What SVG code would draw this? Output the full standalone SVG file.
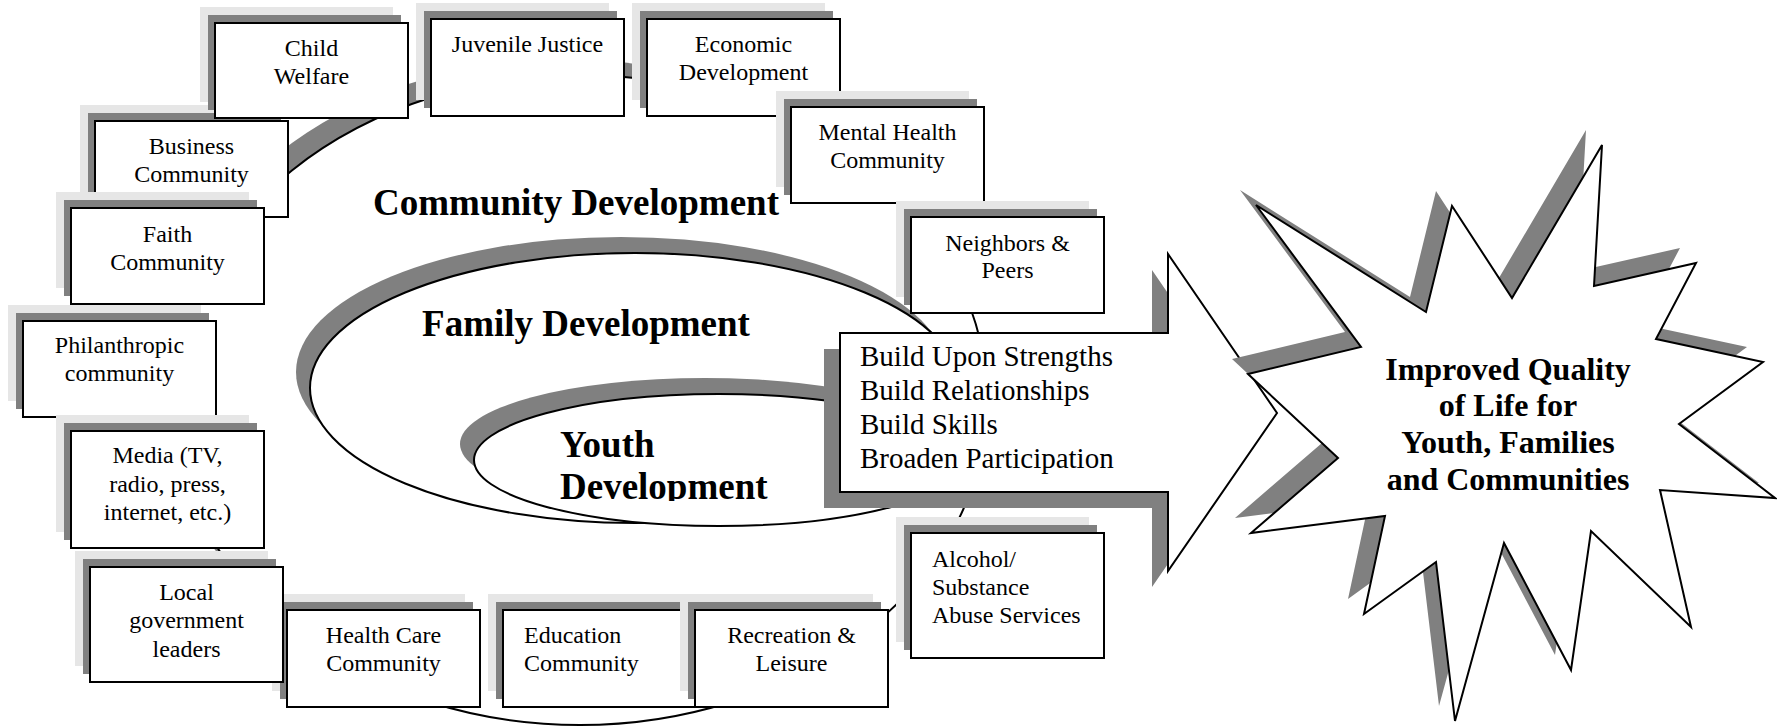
<svg xmlns="http://www.w3.org/2000/svg" width="1777" height="727" viewBox="0 0 1777 727">
  <style>
    .shd1 { fill: #e6e6e6; stroke: none; }
    .shd2 { fill: #808080; stroke: none; }
    .box { fill: #ffffff; stroke: #000000; stroke-width: 2; }
    .ring { fill: #ffffff; stroke: #000000; stroke-width: 2; }
    .ringshd { fill: #808080; stroke: none; }
    .lbl { font-family: "Liberation Serif", "Times New Roman", serif; font-size: 24px; fill: #000000; }
    .mid { text-anchor: middle; }
    .head { font-family: "Liberation Serif", "Times New Roman", serif; font-size: 37px; font-weight: bold; fill: #000000; }
    .build { font-family: "Liberation Serif", "Times New Roman", serif; font-size: 29px; fill: #000000; }
    .goal { font-family: "Liberation Serif", "Times New Roman", serif; font-size: 32px; font-weight: bold; fill: #000000; text-anchor: middle; }
  </style>
  <defs>
    <!-- the lower line of the youth label is cut off at the text frame -->
    <clipPath id="youthClip">
      <rect x="400" y="360" width="500" height="141"/>
    </clipPath>
  </defs>

  <rect x="0" y="0" width="1777" height="727" fill="#ffffff"/>

  <!-- nested development rings -->
  <g id="rings">
    <g id="community-ring">
      <ellipse class="ringshd" cx="565" cy="384" rx="407" ry="325"/>
      <ellipse class="ring" cx="580" cy="400" rx="407" ry="325"/>
    </g>
    <g id="family-ring">
      <ellipse class="ringshd" cx="621" cy="372" rx="325" ry="135"/>
      <ellipse class="ring" cx="635" cy="388" rx="325" ry="135"/>
    </g>
    <g id="youth-ring">
      <ellipse class="ringshd" cx="705" cy="444" rx="245" ry="66"/>
      <ellipse class="ring" cx="719" cy="460" rx="245" ry="66"/>
    </g>
  </g>

  <g id="ring-labels">
    <text class="head mid" x="576" y="215">Community Development</text>
    <text class="head mid" x="586" y="336">Family Development</text>
    <g clip-path="url(#youthClip)">
      <text class="head" x="560" y="457">Youth</text>
      <text class="head" x="560" y="499">Development</text>
    </g>
  </g>

  <!-- principles arrow -->
  <g id="principles">
    <polygon class="shd2" points="824,349 1152,349 1152,270 1261,429 1152,587 1152,508 824,508"/>
    <polygon class="box" points="840,333 1168,333 1168,254 1277,413 1168,571 1168,492 840,492"/>
    <text class="build" x="860" y="366">Build Upon Strengths</text>
    <text class="build" x="860" y="400">Build Relationships</text>
    <text class="build" x="860" y="434">Build Skills</text>
    <text class="build" x="860" y="468">Broaden Participation</text>
  </g>

  <!-- partner boxes around the community ring, each with a two-step shadow -->
  <g id="business">
    <rect class="shd1" x="80" y="105" width="193" height="96"/>
    <rect class="shd2" x="88" y="113" width="193" height="96"/>
    <rect class="box" x="95" y="121" width="193" height="96"/>
    <text class="lbl mid" x="191.5" y="154">Business</text>
    <text class="lbl mid" x="191.5" y="182">Community</text>
  </g>
  <g id="faith">
    <rect class="shd1" x="56" y="192" width="193" height="96"/>
    <rect class="shd2" x="64" y="200" width="193" height="96"/>
    <rect class="box" x="71" y="208" width="193" height="96"/>
    <text class="lbl mid" x="167.5" y="242">Faith</text>
    <text class="lbl mid" x="167.5" y="270">Community</text>
  </g>
  <g id="child-welfare">
    <rect class="shd1" x="200" y="7" width="193" height="95"/>
    <rect class="shd2" x="208" y="15" width="193" height="95"/>
    <rect class="box" x="215" y="23" width="193" height="95"/>
    <text class="lbl mid" x="311.5" y="56">Child</text>
    <text class="lbl mid" x="311.5" y="84">Welfare</text>
  </g>
  <g id="philanthropic">
    <rect class="shd1" x="8" y="305" width="193" height="96"/>
    <rect class="shd2" x="16" y="313" width="193" height="96"/>
    <rect class="box" x="23" y="321" width="193" height="96"/>
    <text class="lbl mid" x="119.5" y="353">Philanthropic</text>
    <text class="lbl mid" x="119.5" y="381">community</text>
  </g>
  <g id="media">
    <rect class="shd1" x="56" y="415" width="193" height="117"/>
    <rect class="shd2" x="64" y="423" width="193" height="117"/>
    <rect class="box" x="71" y="431" width="193" height="117"/>
    <text class="lbl mid" x="167.5" y="463">Media (TV,</text>
    <text class="lbl mid" x="167.5" y="492">radio, press,</text>
    <text class="lbl mid" x="167.5" y="520">internet, etc.)</text>
  </g>
  <g id="health-care">
    <rect class="shd1" x="272" y="594" width="193" height="97"/>
    <rect class="shd2" x="280" y="602" width="193" height="97"/>
    <rect class="box" x="287" y="610" width="193" height="97"/>
    <text class="lbl mid" x="383.5" y="643">Health Care</text>
    <text class="lbl mid" x="383.5" y="671">Community</text>
  </g>
  <g id="local-government">
    <rect class="shd1" x="75" y="551" width="193" height="115"/>
    <rect class="shd2" x="83" y="559" width="193" height="115"/>
    <rect class="box" x="90" y="567" width="193" height="115"/>
    <text class="lbl mid" x="186.5" y="600">Local</text>
    <text class="lbl mid" x="186.5" y="628">government</text>
    <text class="lbl mid" x="186.5" y="657">leaders</text>
  </g>
  <g id="education">
    <rect class="shd1" x="488" y="594" width="193" height="97"/>
    <rect class="shd2" x="496" y="602" width="193" height="97"/>
    <rect class="box" x="503" y="610" width="193" height="97"/>
    <text class="lbl" x="524" y="643">Education</text>
    <text class="lbl" x="524" y="671">Community</text>
  </g>
  <g id="recreation">
    <rect class="shd1" x="680" y="594" width="193" height="97"/>
    <rect class="shd2" x="688" y="602" width="193" height="97"/>
    <rect class="box" x="695" y="610" width="193" height="97"/>
    <text class="lbl mid" x="791.5" y="643">Recreation &amp;</text>
    <text class="lbl mid" x="791.5" y="671">Leisure</text>
  </g>
  <g id="alcohol-substance">
    <rect class="shd1" x="896" y="517" width="193" height="125"/>
    <rect class="shd2" x="904" y="525" width="193" height="125"/>
    <rect class="box" x="911" y="533" width="193" height="125"/>
    <text class="lbl" x="932" y="567">Alcohol/</text>
    <text class="lbl" x="932" y="595">Substance</text>
    <text class="lbl" x="932" y="623">Abuse Services</text>
  </g>
  <g id="economic">
    <rect class="shd1" x="632" y="3" width="193" height="97"/>
    <rect class="shd2" x="640" y="11" width="193" height="97"/>
    <rect class="box" x="647" y="19" width="193" height="97"/>
    <text class="lbl mid" x="743.5" y="52">Economic</text>
    <text class="lbl mid" x="743.5" y="80">Development</text>
  </g>
  <g id="mental-health">
    <rect class="shd1" x="776" y="91" width="193" height="96"/>
    <rect class="shd2" x="784" y="99" width="193" height="96"/>
    <rect class="box" x="791" y="107" width="193" height="96"/>
    <text class="lbl mid" x="887.5" y="140">Mental Health</text>
    <text class="lbl mid" x="887.5" y="168">Community</text>
  </g>
  <g id="neighbors">
    <rect class="shd1" x="896" y="201" width="193" height="96"/>
    <rect class="shd2" x="904" y="209" width="193" height="96"/>
    <rect class="box" x="911" y="217" width="193" height="96"/>
    <text class="lbl mid" x="1007.5" y="251">Neighbors &amp;</text>
    <text class="lbl mid" x="1007.5" y="278">Peers</text>
  </g>
  <g id="juvenile-justice">
    <rect class="shd1" x="416" y="3" width="193" height="97"/>
    <rect class="shd2" x="424" y="11" width="193" height="97"/>
    <rect class="box" x="431" y="19" width="193" height="97"/>
    <text class="lbl mid" x="527.5" y="52">Juvenile Justice</text>
  </g>

  <!-- outcome burst -->
  <g id="outcome">
    <polygon class="shd2" points="1232,359 1345,332 1240,190 1410,297 1436,191 1496,283 1586,130 1578,271 1680,248 1640,324 1747,347 1663,409 1759,483 1644,475 1675,612 1575,516 1555,655 1488,528 1439,706 1420,547 1348,599 1369,501 1235,518 1322,443"/>
    <polygon class="box" points="1248,374 1361,347 1256,205 1426,312 1452,206 1512,298 1602,145 1594,286 1696,263 1656,339 1763,362 1679,424 1775,498 1660,490 1691,627 1591,531 1571,670 1504,543 1455,721 1436,562 1364,614 1385,516 1251,533 1338,458"/>
    <text class="goal" x="1508" y="380">Improved Quality</text>
    <text class="goal" x="1508" y="416">of Life for</text>
    <text class="goal" x="1508" y="453">Youth, Families</text>
    <text class="goal" x="1508" y="490">and Communities</text>
  </g>
</svg>
